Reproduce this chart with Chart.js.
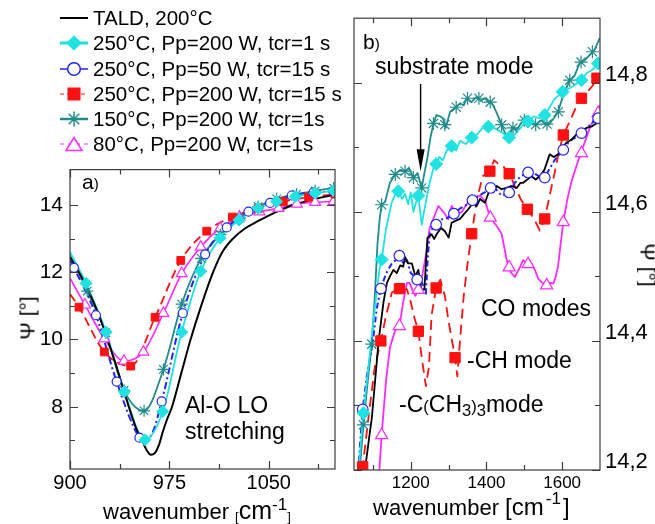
<!DOCTYPE html>
<html>
<head>
<meta charset="utf-8">
<script src="https://cdn.jsdelivr.net/npm/chart.js@4.4.0/dist/chart.umd.min.js"></script>
<style>
  body { margin: 0; background: #fff; }
  #wrap { position: relative; width: 655px; height: 524px; overflow: hidden; font-family: 'Liberation Sans', Arial, sans-serif; color: #000; }
  canvas { position: absolute; }
  .t { position: absolute; white-space: nowrap; line-height: 1; z-index: 2; }
  .rot { position: absolute; white-space: nowrap; line-height: 1; z-index: 2; }
  .leg { position: absolute; left: 0; top: 0; z-index: 3; }
  .leg svg { position: absolute; left: 57px; }
  .leg span { position: absolute; left: 93px; font-size: 20.5px; line-height: 1; white-space: nowrap; }
  .sup { font-size: 17px; line-height: 0; }
  .big { line-height: 0; }
  .sm { font-size: 72%; }
  .sub { font-size: 72%; vertical-align: -0.25em; }
  .br { font-size: 13px; vertical-align: -2px; line-height: 0; }
</style>
</head>
<body>
<div id="wrap">
  <div class="leg" id="legend"></div>

  <canvas id="chartA" width="345" height="374" style="left:0px; top:150px;"></canvas>
  <canvas id="chartB" width="310" height="524" style="left:345px; top:0px;"></canvas>

  <div class="t" style="left:82px; top:171px; font-size:21px;">a<span class="sm">)</span></div>
  <div class="t" style="left:185px; top:394px; font-size:23px;">Al-O LO</div>
  <div class="t" style="left:185px; top:420px; font-size:23px;">stretching</div>
  <div class="t" style="left:103px; top:501px; font-size:22px;">wavenumber <span class="br">[</span><span class="big" style="font-size:25px;">cm</span><span class="sup" style="vertical-align:9px;">-1</span><span class="br">]</span></div>
  <div class="rot" style="left:27px; top:318px; font-size:21px; transform: translate(-50%,-50%) rotate(-90deg);">Ψ [°]</div>

  <div class="t" style="left:363px; top:31px; font-size:21px;">b<span class="sm">)</span></div>
  <div class="t" style="left:375px; top:55px; font-size:23px;">substrate mode</div>
  <div class="t" style="left:481px; top:297px; font-size:23px;">CO modes</div>
  <div class="t" style="left:467px; top:349px; font-size:23px;">-CH mode</div>
  <div class="t" style="left:399px; top:393px; font-size:23px;">-C<span class="sm">(</span>CH<span class="sub">3</span><span class="sm">)</span><span class="sub">3</span>mode</div>
  <div class="t" style="left:373px; top:497px; font-size:22px;">wavenumber <span class="big" style="font-size:24px;">[cm</span><span class="sup" style="vertical-align:11px; padding-left:2px;">-1</span><span class="big" style="font-size:24px; padding-left:2px;">]</span></div>
  <div class="rot" style="left:648px; top:265px; font-size:21px; transform: translate(-50%,-50%) rotate(90deg);">Ψ [°]</div>
</div>

<script>
// legend labels
const seriesNames = ['TALD, 200°C', '250°C, Pp=200 W, tcr=1 s', '250°C, Pp=50 W, tcr=15 s', '250°C, Pp=200 W, tcr=15 s', '150°C, Pp=200 W, tcr=1s', '80°C, Pp=200 W, tcr=1s']

// panel a) axes
const aTicksX = [900, 975, 1050]
const aTickLabelsX = ['900', '975', '1050']
const aMinorX = [937.5, 1012.5, 1087.5]
const aTicksY = [8, 10, 12, 14]
const aTickLabelsY = ['8', '10', '12', '14']
const aMinorY = [7, 9, 11, 13]

// panel a) TALD (line only)
const aTaldX = [900, 906, 912, 920, 927, 935, 942, 950, 955, 958, 961, 964, 967, 970, 973, 977, 984, 991, 999, 1008, 1015, 1023, 1032, 1041, 1055, 1070, 1085, 1100]
const aTaldY = [12.45, 12.05, 11.6, 10.9, 10.15, 9.2, 8.3, 7.35, 6.95, 6.7, 6.57, 6.62, 6.85, 7.25, 7.6, 8.0, 9.0, 10.0, 11.0, 12.0, 12.6, 13.0, 13.3, 13.5, 13.78, 14.02, 14.18, 14.3]

// panel a) 250°C 200 W 1 s
const aCyanX = [900, 912.1, 927.2, 941, 956.6, 970, 984.3, 998.7, 1013.3, 1027.5, 1042, 1056, 1070, 1085, 1099]
const aCyanY = [12.6, 11.67, 10.22, 8.45, 7.02, 7.86, 10.22, 12.03, 13.02, 13.55, 13.9, 14.1, 14.25, 14.35, 14.42]
const aCyanMarkX = [912.1, 927.2, 941, 956.6, 970, 984.3, 998.7, 1013.3, 1027.5, 1042, 1056, 1070, 1085, 1099]
const aCyanMarkY = [11.67, 10.22, 8.45, 7.02, 7.86, 10.22, 12.03, 13.02, 13.55, 13.9, 14.1, 14.25, 14.35, 14.42]

// panel a) 250°C 50 W 15 s
const aBlueX = [900, 903, 919.6, 935.2, 952.4, 957, 963, 969.2, 985.1, 1002, 1018.3, 1034.7, 1051, 1067.4, 1083.8, 1098.9, 1100]
const aBlueY = [12.35, 12.13, 10.72, 8.75, 7.08, 6.98, 7.3, 8.16, 10.78, 12.53, 13.33, 13.8, 14.06, 14.28, 14.37, 14.41, 14.42]
const aBlueMarkX = [903, 919.6, 935.2, 952.4, 969.2, 985.1, 1002, 1018.3, 1034.7, 1051, 1067.4, 1083.8, 1098.9]
const aBlueMarkY = [12.13, 10.72, 8.75, 7.08, 8.16, 10.78, 12.53, 13.33, 13.8, 14.06, 14.28, 14.37, 14.41]

// panel a) 250°C 200 W 15 s
const aRedX = [900, 906.8, 925.9, 945.8, 964.2, 983.6, 1003.2, 1022.6, 1042, 1061, 1080, 1100]
const aRedY = [11.35, 10.96, 9.63, 9.21, 10.66, 12.35, 13.22, 13.64, 13.9, 14.1, 14.23, 14.32]
const aRedMarkX = [906.8, 925.9, 945.8, 964.2, 983.6, 1003.2, 1022.6, 1042, 1061, 1080, 1100]
const aRedMarkY = [10.96, 9.63, 9.21, 10.66, 12.35, 13.22, 13.64, 13.9, 14.1, 14.23, 14.32]

// panel a) 150°C
const aTealX = [900, 913, 927, 940.8, 955.9, 970.5, 984.3, 999, 1013.5, 1028.4, 1042, 1056, 1071, 1085, 1099]
const aTealY = [12.55, 11.44, 10.2, 8.49, 7.88, 9.11, 11.05, 12.41, 13.12, 13.61, 13.95, 14.18, 14.32, 14.42, 14.5]
const aTealMarkX = [913, 927, 940.8, 955.9, 970.5, 984.3, 999, 1013.5, 1028.4, 1042, 1056, 1071, 1085, 1099]
const aTealMarkY = [11.44, 10.2, 8.49, 7.88, 9.11, 11.05, 12.41, 13.12, 13.61, 13.95, 14.18, 14.32, 14.42, 14.5]

// panel a) 80°C
const aPinkX = [900, 911.3, 925.9, 940.8, 955.4, 970.5, 984.3, 998.7, 1013.3, 1027.9, 1043, 1057.4, 1071.2, 1085, 1099]
const aPinkY = [11.82, 11.03, 10.02, 9.36, 9.63, 10.78, 11.96, 12.75, 13.31, 13.64, 13.8, 13.9, 14.03, 14.08, 14.1]
const aPinkMarkX = [911.3, 925.9, 940.8, 955.4, 970.5, 984.3, 998.7, 1013.3, 1027.9, 1043, 1057.4, 1071.2, 1085, 1099]
const aPinkMarkY = [11.03, 10.02, 9.36, 9.63, 10.78, 11.96, 12.75, 13.31, 13.64, 13.8, 13.9, 14.03, 14.08, 14.1]

// panel b) axes
const bTicksX = [1200, 1400, 1600]
const bTickLabelsX = ['1200', '1400', '1600']
const bMinorX = [1100, 1300, 1500]
const bTicksY = [14.2, 14.4, 14.6, 14.8]
const bTickLabelsY = ['14,2', '14,4', '14,6', '14,8']
const bMinorY = [14.3, 14.5, 14.7]

// panel b) TALD
const bTaldX = [1068, 1079, 1090, 1097, 1106, 1115, 1128, 1137, 1145, 1154, 1163, 1172, 1180, 1185, 1193, 1203, 1212, 1220, 1228, 1236, 1240, 1244, 1255, 1262, 1269, 1280, 1290, 1300, 1308, 1318, 1330, 1340, 1352, 1365, 1374, 1383, 1396, 1409, 1418, 1427, 1440, 1453, 1465, 1480, 1490, 1497, 1508, 1519, 1530, 1541, 1553, 1567, 1578, 1589, 1600, 1611, 1625, 1638, 1650, 1664, 1677, 1690, 1700]
const bTaldY = [14.13, 14.2, 14.25, 14.28, 14.34, 14.4, 14.46, 14.49, 14.5, 14.51, 14.505, 14.517, 14.515, 14.53, 14.52, 14.52, 14.5, 14.51, 14.48, 14.48, 14.52, 14.56, 14.565, 14.558, 14.566, 14.575, 14.57, 14.56, 14.583, 14.586, 14.589, 14.596, 14.604, 14.614, 14.609, 14.62, 14.614, 14.635, 14.63, 14.64, 14.635, 14.637, 14.64, 14.637, 14.645, 14.645, 14.65, 14.655, 14.65, 14.655, 14.665, 14.689, 14.685, 14.689, 14.7, 14.707, 14.712, 14.72, 14.725, 14.73, 14.732, 14.737, 14.745]

// panel b) 250°C 200 W 1 s
const bCyanX = [1058, 1065, 1075, 1090, 1105, 1117, 1123, 1135, 1150, 1160, 1167, 1177, 1185, 1193, 1200, 1207, 1214, 1220, 1225, 1229, 1235, 1242, 1250, 1260, 1267, 1275, 1285, 1295, 1308, 1320, 1330, 1345, 1361, 1375, 1390, 1405, 1420, 1435, 1448, 1460, 1475, 1490, 1500, 1510, 1525, 1540, 1554, 1565, 1580, 1590, 1601, 1615, 1630, 1641, 1651, 1665, 1680, 1695, 1700]
const bCyanY = [14.15, 14.22, 14.288, 14.37, 14.45, 14.51, 14.526, 14.575, 14.615, 14.628, 14.632, 14.62, 14.628, 14.612, 14.63, 14.6, 14.615, 14.625, 14.6, 14.58, 14.6, 14.622, 14.645, 14.668, 14.674, 14.685, 14.68, 14.695, 14.702, 14.695, 14.71, 14.705, 14.715, 14.72, 14.73, 14.732, 14.73, 14.725, 14.72, 14.715, 14.72, 14.73, 14.738, 14.74, 14.748, 14.745, 14.75, 14.76, 14.775, 14.78, 14.786, 14.79, 14.795, 14.8, 14.804, 14.815, 14.82, 14.83, 14.835]
const bCyanMarkX = [1075, 1123, 1167, 1220, 1267, 1308, 1361, 1405, 1460, 1510, 1554, 1601, 1651, 1695]
const bCyanMarkY = [14.288, 14.526, 14.632, 14.625, 14.674, 14.702, 14.715, 14.732, 14.715, 14.74, 14.75, 14.786, 14.804, 14.83]

// panel b) 250°C 50 W 15 s
const bBlueX = [1058, 1066, 1073, 1085, 1100, 1110, 1121, 1135, 1150, 1160, 1170, 1180, 1190, 1200, 1210, 1217, 1230, 1240, 1245, 1250, 1258, 1267, 1280, 1295, 1314, 1330, 1345, 1363, 1380, 1395, 1411, 1425, 1440, 1460, 1475, 1490, 1510, 1525, 1540, 1554, 1565, 1580, 1603, 1620, 1635, 1651, 1665, 1680, 1695, 1700]
const bBlueY = [14.17, 14.24, 14.294, 14.35, 14.4, 14.45, 14.481, 14.505, 14.52, 14.525, 14.532, 14.52, 14.525, 14.505, 14.5, 14.495, 14.49, 14.473, 14.53, 14.565, 14.575, 14.58, 14.588, 14.59, 14.597, 14.605, 14.61, 14.618, 14.625, 14.63, 14.637, 14.635, 14.625, 14.63, 14.645, 14.655, 14.661, 14.66, 14.655, 14.653, 14.665, 14.68, 14.696, 14.71, 14.715, 14.722, 14.73, 14.738, 14.745, 14.75]
const bBlueMarkX = [1073, 1121, 1170, 1217, 1267, 1314, 1363, 1411, 1460, 1510, 1554, 1603, 1651, 1695]
const bBlueMarkY = [14.294, 14.481, 14.532, 14.495, 14.58, 14.597, 14.618, 14.637, 14.63, 14.661, 14.653, 14.696, 14.722, 14.745]

// panel b) 250°C 200 W 15 s
const bRedX = [1065, 1073, 1090, 1105, 1121, 1135, 1150, 1170, 1190, 1200, 1210, 1220, 1230, 1240, 1248, 1255, 1267, 1278, 1290, 1300, 1317, 1323, 1330, 1340, 1350, 1361, 1375, 1390, 1409, 1420, 1430, 1445, 1460, 1475, 1490, 1508, 1525, 1541, 1554, 1565, 1580, 1590, 1603, 1620, 1635, 1651, 1665, 1680, 1692, 1700]
const bRedY = [14.15, 14.205, 14.29, 14.36, 14.4, 14.44, 14.475, 14.481, 14.48, 14.46, 14.435, 14.415, 14.37, 14.33, 14.36, 14.44, 14.482, 14.495, 14.47, 14.43, 14.374, 14.345, 14.4, 14.47, 14.52, 14.566, 14.62, 14.655, 14.663, 14.68, 14.675, 14.67, 14.659, 14.64, 14.62, 14.604, 14.59, 14.571, 14.589, 14.62, 14.66, 14.69, 14.719, 14.74, 14.76, 14.776, 14.785, 14.795, 14.807, 14.815]
const bRedMarkX = [1073, 1121, 1170, 1220, 1267, 1317, 1361, 1409, 1460, 1508, 1554, 1603, 1651, 1692]
const bRedMarkY = [14.205, 14.4, 14.481, 14.415, 14.482, 14.374, 14.566, 14.663, 14.659, 14.604, 14.589, 14.719, 14.776, 14.807]

// panel b) 150°C
const bTealX = [1060, 1068, 1075, 1085, 1097, 1105, 1112, 1118, 1123, 1132, 1145, 1159, 1172, 1185, 1196, 1207, 1218, 1229, 1236, 1244, 1252, 1260, 1268, 1277, 1285, 1292, 1304, 1315, 1330, 1340, 1348, 1360, 1374, 1385, 1396, 1405, 1414, 1422, 1431, 1440, 1449, 1460, 1470, 1480, 1492, 1506, 1515, 1532, 1545, 1556, 1567, 1578, 1589, 1600, 1610, 1620, 1632, 1646, 1660, 1673, 1685, 1700]
const bTealY = [14.15, 14.22, 14.27, 14.33, 14.395, 14.47, 14.55, 14.59, 14.611, 14.615, 14.645, 14.658, 14.665, 14.663, 14.667, 14.653, 14.66, 14.637, 14.66, 14.684, 14.715, 14.737, 14.75, 14.748, 14.745, 14.73, 14.755, 14.76, 14.768, 14.765, 14.776, 14.77, 14.778, 14.772, 14.776, 14.77, 14.768, 14.76, 14.748, 14.735, 14.722, 14.718, 14.73, 14.727, 14.738, 14.748, 14.74, 14.735, 14.742, 14.735, 14.737, 14.745, 14.755, 14.775, 14.79, 14.804, 14.81, 14.83, 14.835, 14.843, 14.85, 14.87]
const bTealMarkX = [1075, 1097, 1123, 1159, 1185, 1207, 1229, 1260, 1290, 1320, 1350, 1380, 1410, 1440, 1470, 1500, 1530, 1560, 1590, 1620, 1650, 1680]
const bTealMarkY = [14.27, 14.395, 14.611, 14.658, 14.663, 14.653, 14.637, 14.737, 14.735, 14.762, 14.776, 14.776, 14.77, 14.735, 14.73, 14.742, 14.735, 14.736, 14.755, 14.804, 14.832, 14.848]

// panel b) 80°C
const bPinkX = [1112, 1117, 1123, 1135, 1145, 1158, 1170, 1180, 1190, 1197, 1205, 1212, 1220, 1230, 1242, 1250, 1260, 1273, 1286, 1299, 1308, 1322, 1335, 1348, 1366, 1383, 1396, 1410, 1427, 1440, 1452, 1458, 1466, 1475, 1485, 1497, 1510, 1519, 1528, 1537, 1548, 1559, 1568, 1577, 1583, 1589, 1596, 1603, 1614, 1625, 1640, 1655, 1673, 1685, 1700]
const bPinkY = [14.15, 14.2, 14.254, 14.34, 14.39, 14.415, 14.423, 14.46, 14.49, 14.49, 14.478, 14.47, 14.479, 14.5, 14.54, 14.575, 14.59, 14.609, 14.6, 14.589, 14.609, 14.596, 14.6, 14.612, 14.622, 14.625, 14.617, 14.591, 14.578, 14.566, 14.53, 14.514, 14.505, 14.499, 14.51, 14.525, 14.519, 14.52, 14.51, 14.496, 14.49, 14.486, 14.49, 14.489, 14.5, 14.515, 14.55, 14.584, 14.62, 14.648, 14.675, 14.7, 14.73, 14.745, 14.765]
const bPinkMarkX = [1123, 1170, 1220, 1410, 1460, 1510, 1559, 1603, 1651, 1695]
const bPinkMarkY = [14.254, 14.423, 14.479, 14.591, 14.514, 14.519, 14.486, 14.584, 14.691, 14.753]

// substrate mode arrow: x, from, to
const arrowX = 1226
const arrowFrom = 14.798
const arrowTo = 14.663

const fontFamily = "'Liberation Sans', Arial, sans-serif"

const cores = {
    tald: '#000000',
    cyan: '#1fe3e3',
    blue: '#2323ff',
    red: '#ff1111',
    teal: '#218c8c',
    pink: '#ff2bff'
}

function pontos(xs, ys) {
    return xs.map((x, i) => ({ x: x, y: ys[i] }))
}

function linha(xs, ys, cor, largura, dash, suave) {
    return {
        data: pontos(xs, ys),
        borderColor: cor,
        borderWidth: largura,
        borderDash: dash || [],
        pointRadius: 0,
        fill: false,
        tension: suave ? 0.4 : 0,
        cubicInterpolationMode: suave ? 'monotone' : 'default',
        borderJoinStyle: 'round',
        order: 10
    }
}

function marcas(xs, ys, estilo, raio, fundo, cor, largura) {
    return {
        data: pontos(xs, ys),
        showLine: false,
        pointStyle: estilo,
        pointRadius: raio,
        pointBackgroundColor: fundo,
        pointBorderColor: cor,
        pointBorderWidth: largura,
        order: 1
    }
}

// frame with inward ticks on all four sides
const molduraPlugin = {
    id: 'moldura',
    afterDatasetsDraw(chart, args, o) {
        const ctx = chart.ctx
        const a = chart.chartArea
        const sx = chart.scales.x
        const sy = chart.scales.y
        ctx.save()
        ctx.strokeStyle = '#3c3c3c'
        ctx.lineWidth = 1.2
        ctx.strokeRect(a.left, a.top, a.right - a.left, a.bottom - a.top)
        ctx.beginPath()
        const desenhaX = (v, len) => {
            const px = Math.round(sx.getPixelForValue(v)) + 0.5
            ctx.moveTo(px, a.bottom); ctx.lineTo(px, a.bottom - len)
            ctx.moveTo(px, a.top); ctx.lineTo(px, a.top + len)
        }
        const desenhaY = (v, len) => {
            const py = Math.round(sy.getPixelForValue(v)) + 0.5
            ctx.moveTo(a.left, py); ctx.lineTo(a.left + len, py)
            ctx.moveTo(a.right, py); ctx.lineTo(a.right - len, py)
        }
        o.xMaior.forEach(v => desenhaX(v, 8))
        o.xMenor.forEach(v => desenhaX(v, 5))
        o.yMaior.forEach(v => desenhaY(v, 8))
        o.yMenor.forEach(v => desenhaY(v, 5))
        ctx.stroke()
        ctx.restore()
    }
}

const setaPlugin = {
    id: 'seta',
    afterDatasetsDraw(chart, args, o) {
        if (!o || o.x === undefined) return
        const ctx = chart.ctx
        const x = chart.scales.x.getPixelForValue(o.x)
        const y0 = chart.scales.y.getPixelForValue(o.from)
        const y1 = chart.scales.y.getPixelForValue(o.to)
        ctx.save()
        ctx.strokeStyle = '#000'
        ctx.fillStyle = '#000'
        ctx.lineWidth = 1.4
        ctx.beginPath()
        ctx.moveTo(x, y0)
        ctx.lineTo(x, y1 - 20)
        ctx.stroke()
        ctx.beginPath()
        ctx.moveTo(x - 4, y1 - 22)
        ctx.lineTo(x + 4, y1 - 22)
        ctx.lineTo(x, y1)
        ctx.closePath()
        ctx.fill()
        ctx.restore()
    }
}

function eixo(min, max, ticks, rotulos, tamanho, padding, ajuste, posicao, deslocamento) {
    return {
        type: 'linear',
        position: posicao,
        min: min,
        max: max,
        afterBuildTicks: s => { s.ticks = ticks.map(v => ({ value: v })) },
        afterFit: s => {
            if (s.isHorizontal()) s.height = ajuste
            else s.width = ajuste
        },
        grid: { display: false, drawTicks: false },
        border: { display: false },
        ticks: {
            autoSkip: false,
            maxRotation: 0,
            padding: padding,
            labelOffset: deslocamento || 0,
            color: '#000',
            font: { family: fontFamily, size: tamanho },
            callback: (v, i) => rotulos[i]
        }
    }
}

function opcoesBase(padding, escalas, extras) {
    return {
        responsive: false,
        animation: false,
        devicePixelRatio: 1,
        layout: { padding: padding },
        scales: escalas,
        plugins: Object.assign({
            legend: { display: false },
            tooltip: { enabled: false }
        }, extras)
    }
}

// panel a)
new Chart(document.getElementById('chartA'), {
    type: 'line',
    data: {
        datasets: [
            marcas(aCyanMarkX, aCyanMarkY, 'rectRot', 6, cores.cyan, cores.cyan, 1),
            marcas(aBlueMarkX, aBlueMarkY, 'circle', 4.5, '#ffffff', cores.blue, 1.2),
            marcas(aRedMarkX, aRedMarkY, 'rect', 5.5, cores.red, cores.red, 1),
            marcas(aTealMarkX, aTealMarkY, 'star', 6, cores.teal, cores.teal, 1.2),
            marcas(aPinkMarkX, aPinkMarkY, 'triangle', 6.3, '#ffffff', cores.pink, 1.2),
            linha(aTaldX, aTaldY, cores.tald, 2, null, true),
            linha(aCyanX, aCyanY, cores.cyan, 1.8, null, true),
            linha(aBlueX, aBlueY, cores.blue, 2, [7, 3, 2, 3], true),
            linha(aRedX, aRedY, cores.red, 1.8, [9, 5], true),
            linha(aTealX, aTealY, cores.teal, 1.8, null, true),
            linha(aPinkX, aPinkY, cores.pink, 1.7, null, true)
        ]
    },
    options: opcoesBase(
        { left: 0, right: 10, top: 17, bottom: 0 },
        {
            x: eixo(900, 1100, aTicksX, aTickLabelsX, 20, 2, 55, 'bottom'),
            y: eixo(6.15, 15.05, aTicksY, aTickLabelsY, 21, 7, 70, 'left')
        },
        { moldura: { xMaior: aTicksX, xMenor: aMinorX, yMaior: aTicksY, yMenor: aMinorY } }
    ),
    plugins: [molduraPlugin]
})

// panel b)
new Chart(document.getElementById('chartB'), {
    type: 'line',
    data: {
        datasets: [
            marcas(bCyanMarkX, bCyanMarkY, 'rectRot', 6.5, cores.cyan, cores.cyan, 1),
            marcas(bBlueMarkX, bBlueMarkY, 'circle', 5.3, '#ffffff', cores.blue, 1.2),
            marcas(bRedMarkX, bRedMarkY, 'rect', 7.3, cores.red, cores.red, 1),
            marcas(bTealMarkX, bTealMarkY, 'star', 6.5, cores.teal, cores.teal, 1.2),
            marcas(bPinkMarkX, bPinkMarkY, 'triangle', 7, '#ffffff', cores.pink, 1.2),
            linha(bTaldX, bTaldY, cores.tald, 1.8, null, false),
            linha(bCyanX, bCyanY, cores.cyan, 1.8, null, false),
            linha(bBlueX, bBlueY, cores.blue, 2, [6, 3, 2, 3], false),
            linha(bRedX, bRedY, cores.red, 1.8, [10, 6], false),
            linha(bTealX, bTealY, cores.teal, 1.8, null, false),
            linha(bPinkX, bPinkY, cores.pink, 1.8, null, false)
        ]
    },
    options: opcoesBase(
        { left: 9, right: 0, top: 16, bottom: 0 },
        {
            x: eixo(1050, 1700, bTicksX, bTickLabelsX, 17, 3, 54, 'bottom'),
            y: eixo(14.2, 14.9, bTicksY, bTickLabelsY, 22, 5, 55, 'right', -8)
        },
        {
            moldura: { xMaior: bTicksX, xMenor: bMinorX, yMaior: bTicksY, yMenor: bMinorY },
            seta: { x: arrowX, from: arrowFrom, to: arrowTo }
        }
    ),
    plugins: [molduraPlugin, setaPlugin]
})

// legend drawn as html rows with svg symbols
const legendaRows = [
    { cor: cores.tald, largura: 2, dash: '', marca: '' },
    { cor: cores.cyan, largura: 3, dash: '', marca: 'diamond' },
    { cor: cores.blue, largura: 1.5, dash: '', marca: 'circle' },
    { cor: cores.red, largura: 1, dash: '4 3', marca: 'square' },
    { cor: cores.teal, largura: 2.5, dash: '', marca: 'star' },
    { cor: cores.pink, largura: 1, dash: '4 4', marca: 'triangle' }
]

function simbolo(m, cor) {
    if (m === 'diamond') return `<polygon points="17,2.5 25,10 17,17.5 9,10" fill="${cor}"/>`
    if (m === 'circle') return `<circle cx="17" cy="10" r="6.3" fill="#fff" stroke="${cor}" stroke-width="1.5"/>`
    if (m === 'square') return `<rect x="10.5" y="3.5" width="13" height="13" fill="${cor}"/>`
    if (m === 'triangle') return `<polygon points="17,3.5 25,16.5 9,16.5" fill="#fff" stroke="${cor}" stroke-width="1.5"/>`
    if (m === 'star') {
        let d = ''
        for (let k = 0; k < 4; k++) {
            const ang = k * Math.PI / 4
            const dx = 7.5 * Math.cos(ang)
            const dy = 7.5 * Math.sin(ang)
            d += `M${17 - dx},${10 - dy}L${17 + dx},${10 + dy}`
        }
        return `<path d="${d}" stroke="${cor}" stroke-width="1.5" fill="none"/>`
    }
    return ''
}

const legenda = document.getElementById('legend')
const baselines = [25, 50.7, 76, 101, 126.3, 151.7]
seriesNames.forEach((nome, i) => {
    const r = legendaRows[i]
    const centro = baselines[i] - 7.3
    const svg = `<svg width="34" height="20" style="top:${centro - 10}px">` +
        `<line x1="3" y1="10" x2="31" y2="10" stroke="${r.cor}" stroke-width="${r.largura}" stroke-dasharray="${r.dash}"/>` +
        simbolo(r.marca, r.cor) + '</svg>'
    legenda.insertAdjacentHTML('beforeend', svg + `<span style="top:${baselines[i] - 17.4}px">${nome}</span>`)
})
</script>
</body>
</html>
